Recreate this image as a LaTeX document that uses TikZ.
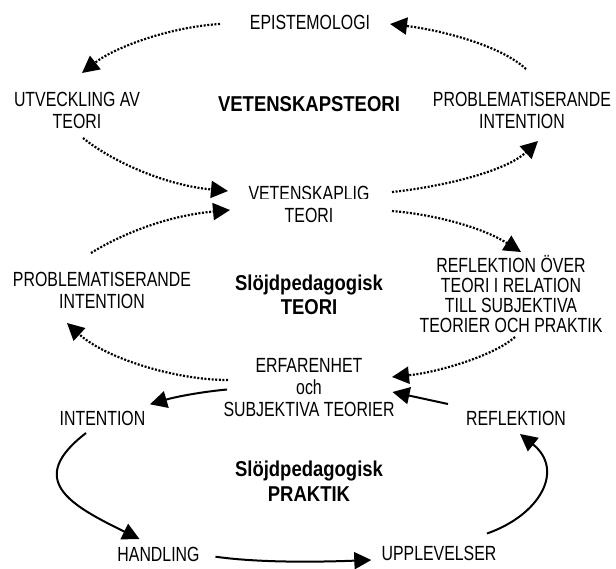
\documentclass[tikz,border=0pt]{standalone}
\usepackage{fontspec}
\setmainfont{Liberation Sans}[FakeStretch=0.775]
\newfontfamily\headfont{Liberation Sans}[FakeStretch=0.86]
\usetikzlibrary{arrows.meta}
% centred lines; the box's baseline is the first line's baseline
\newcommand\stack[2][22pt]{\vtop{\baselineskip=#1\relax\lineskiplimit=-100pt\halign{\hfil##\hfil\cr#2\crcr}}}
\begin{document}
\begin{tikzpicture}[x=1pt,y=-1pt,
  txt/.style={inner sep=0pt, anchor=base, font=\fontsize{20.5}{22}\selectfont},
  hd/.style={inner sep=0pt, anchor=base, font=\headfont\bfseries\fontsize{21.5}{25}\selectfont},
  dotarrow/.style={line width=2.2pt, dash pattern=on 2pt off 1.6pt,
    -{Triangle[length=17pt,width=17pt]}},
  solidarrow/.style={line width=2pt, -{Triangle[length=17pt,width=17pt]}}]
\fill[white] (0,0) rectangle (616,568);
\useasboundingbox (0,0) rectangle (616,568);

% labels
\node[txt] (epi) at (310,29) {EPISTEMOLOGI};
\node[txt] (utv) at (77,106) {\stack{UTVECKLING AV\cr TEORI}};
\node[hd] (vt) at (309,111) {VETENSKAPSTEORI};
\node[txt] (probT) at (522,106) {\stack{PROBLEMATISERANDE\cr INTENTION}};
\begin{scope}[even odd rule]
  \clip (0,0) rectangle (616,568) (230,198.5) rectangle (390,207);
  \node[txt] (vet) at (309,200) {\stack{VETENSKAPLIG\cr TEORI}};
\end{scope}
\node[txt] (probL) at (102,286) {\stack{PROBLEMATISERANDE\cr INTENTION}};
\node[hd] (spT) at (309,290) {\stack[24.5pt]{Slöjdpedagogisk\cr TEORI}};
\node[txt] (ref4) at (511,272) {\stack[20pt]{REFLEKTION ÖVER\cr TEORI I RELATION\cr TILL SUBJEKTIVA\cr TEORIER OCH PRAKTIK}};
\node[txt] (erf) at (309,372) {\stack{ERFARENHET\cr och\cr SUBJEKTIVA TEORIER}};
\node[txt] (int) at (102.5,425) {INTENTION};
\node[txt] (refl) at (516,425) {REFLEKTION};
\node[hd] (spP) at (309,476) {\stack[25pt]{Slöjdpedagogisk\cr PRAKTIK}};
\node[txt] (hand) at (158.5,561) {HANDLING};
\node[txt] (upp) at (439,560.5) {UPPLEVELSER};

% theory cycle (dotted)
\draw[dotarrow] ([shift={(-90,-5)}]epi.base) .. controls (170,27) and (115,47) .. ([shift={(5,-33)}]utv.base);
\draw[dotarrow] ([shift={(4,-37)}]probT.base) .. controls (500,45) and (440,30) .. ([shift={(80,-5)}]epi.base);
\draw[dotarrow] ([shift={(6,32)}]utv.base) .. controls (110,160) and (163,185) .. ([shift={(-81,-9)}]vet.base);
\draw[dotarrow] ([shift={(-11,-33)}]probL.base) .. controls (120,235) and (165,216) .. ([shift={(-79,10)}]vet.base);
\draw[dotarrow] ([shift={(83,-8)}]vet.base) .. controls (440,187) and (505,172) .. ([shift={(16,35)}]probT.base);
\draw[dotarrow] ([shift={(83,11)}]vet.base) .. controls (430,214) and (480,226) .. ([shift={(10,-20)}]ref4.base);
\draw[dotarrow] ([shift={(4,65)}]ref4.base) .. controls (495,355) and (440,372) .. ([shift={(83,5)}]erf.base);
\draw[dotarrow] ([shift={(-81,8)}]erf.base) .. controls (175,380) and (105,358) .. ([shift={(-35,37)}]probL.base);

% practice cycle (solid)
\draw[solidarrow] ([shift={(-82,17.5)}]erf.base) .. controls (200,392) and (175,397) .. ([shift={(47.5,-20.7)}]int.base);
\draw[solidarrow] ([shift={(-68,-21)}]refl.base) -- ([shift={(83.5,20)}]erf.base);
\draw[solidarrow] ([shift={(-16.5,8)}]int.base) .. controls (25,480) and (70,505) .. ([shift={(-19,-22)}]hand.base);
\draw[solidarrow] ([shift={(57,-4.3)}]hand.base) .. controls (260,563) and (320,562) .. ([shift={(-67.7,-0.5)}]upp.base);
\draw[solidarrow] ([shift={(48,-27)}]upp.base) .. controls (540,515) and (565,470) .. ([shift={(4,9)}]refl.base);
\end{tikzpicture}
\end{document}
